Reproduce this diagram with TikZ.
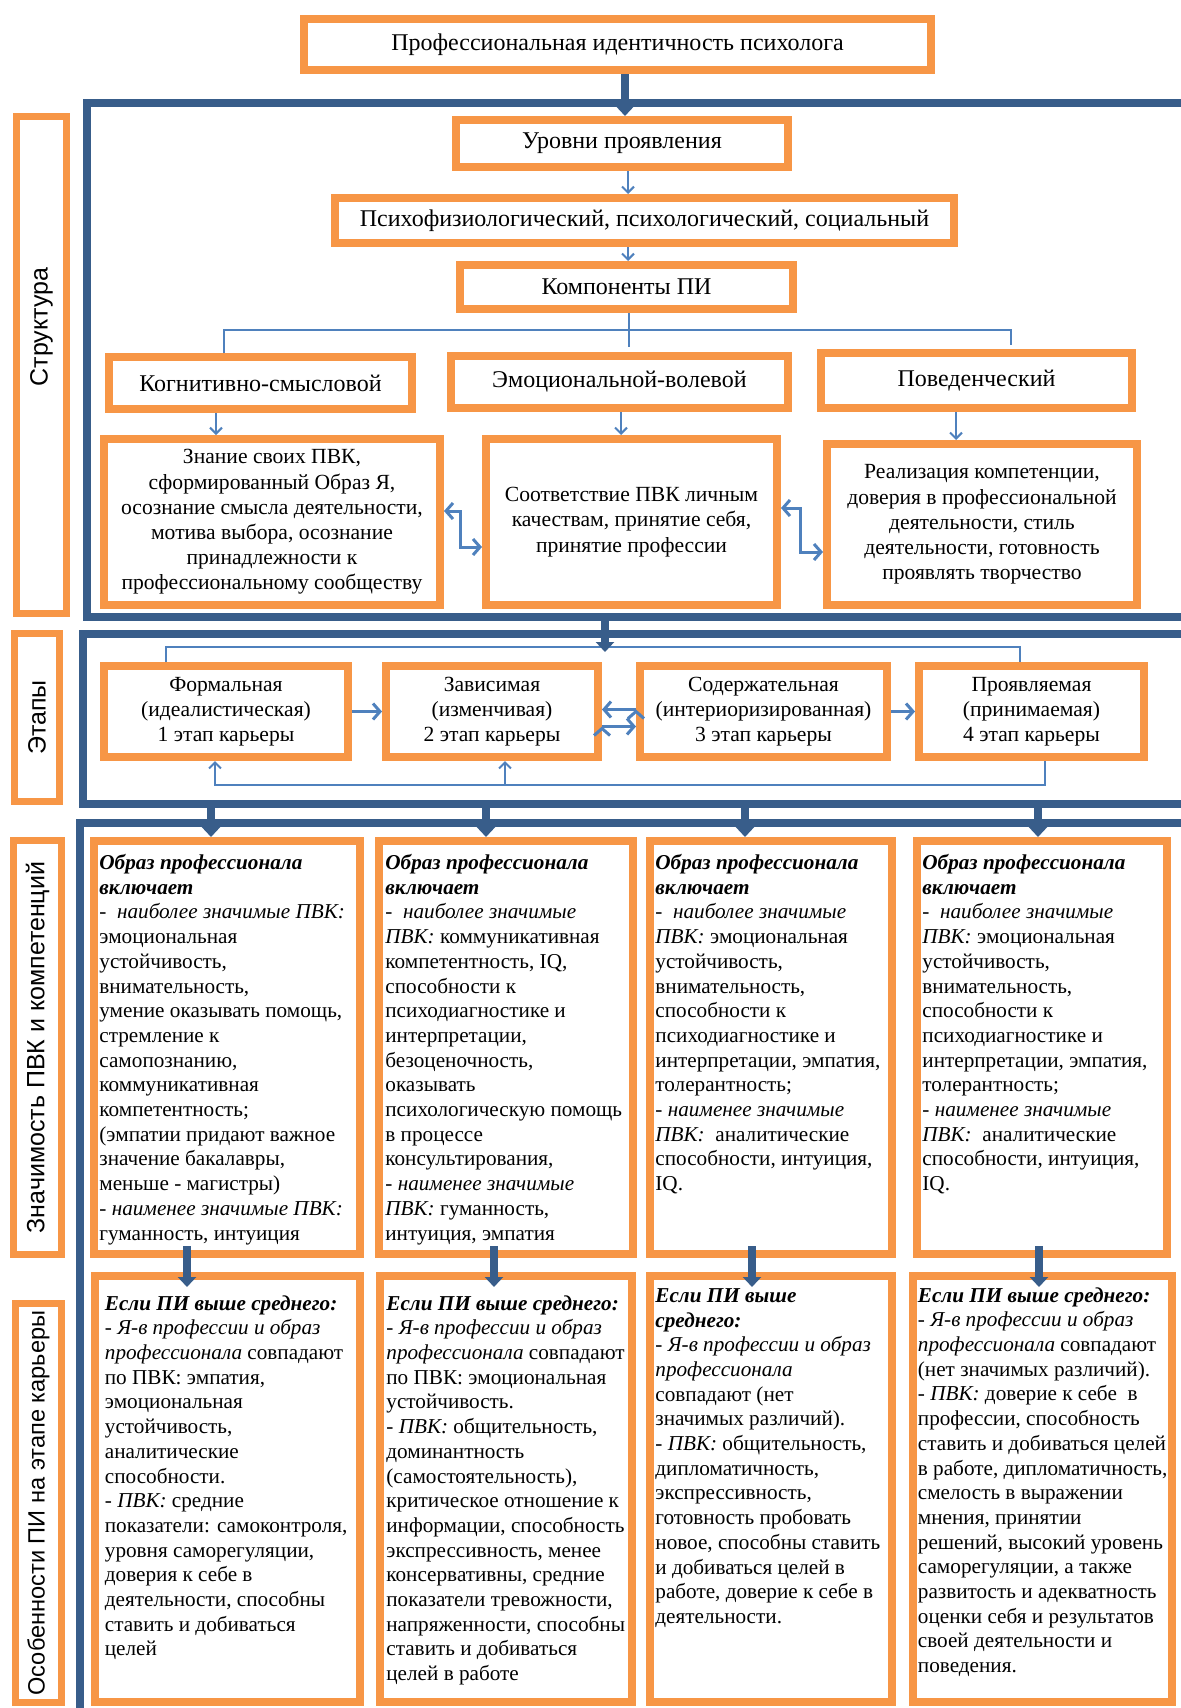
\documentclass[tikz,border=0pt]{standalone}
\usepackage{fontspec}
\setmainfont{Liberation Serif}
\newfontfamily\sidefont{Liberation Sans}
\usetikzlibrary{arrows.meta,positioning}
\definecolor{orng}{HTML}{F79646}
\definecolor{darkblue}{HTML}{385D8A}
\definecolor{lineblue}{HTML}{4F81BD}
\tikzstyle{obox}=[rectangle,draw=orng,line width=4pt,fill=white,align=center,inner sep=2pt,font=\fontsize{12}{15}\selectfont]
\tikzstyle{tbox}=[obox,font=\fontsize{10.8}{12.6}\selectfont]
\tikzstyle{colbox}=[rectangle,draw=orng,line width=4pt,fill=white]
\tikzstyle{sidebox}=[rectangle,draw=orng,line width=3.5pt,fill=white]
\tikzstyle{sidelabel}=[rotate=90,inner sep=0pt,font=\sidefont\fontsize{12.5}{14}\selectfont]
\tikzstyle{coltext}=[anchor=north west,align=left,inner sep=0pt,font=\fontsize{10.6}{12.35}\selectfont]
\tikzstyle{frameline}=[draw=darkblue,line width=4pt]
\tikzstyle{bigarrow}=[draw=darkblue,line width=4pt,-{Triangle[length=5pt,width=9pt]}]
\tikzstyle{thinline}=[draw=lineblue,line width=1pt]
\tikzstyle{thinarrow}=[thinline,-{Straight Barb[length=3pt,width=6pt]}]
\tikzstyle{stagearrow}=[draw=lineblue,line width=1.5pt,-{Straight Barb[length=3.5pt,width=8pt]}]
\tikzstyle{twoway}=[draw=lineblue,line width=1.5pt,{Straight Barb[length=3.5pt,width=8pt]}-{Straight Barb[length=3.5pt,width=8pt]}]
\begin{document}
\begin{tikzpicture}[x=0.5pt,y=-0.5pt,node distance=15pt]
            \fill[white] (0,0) rectangle (1181,1708);
            \useasboundingbox (0,0) rectangle (1181,1708);

            % FRAMES
            \draw[frameline] (1200,103) -- (87,103) -- (87,617) -- (1200,617);
            \draw[frameline] (1200,634) -- (83,634) -- (83,804) -- (1200,804);
            \draw[frameline] (1200,823) -- (80,823) -- (80,1720);

            % SIDE LABELS
            \node[sidebox,minimum width=25pt,minimum height=248.5pt] (sb1) at (41.5,365) {};
            \node[sidelabel] at (41.5,327) {Структура};
            \node[sidebox,minimum width=22.5pt,minimum height=84pt] (sb2) at (37,717.5) {};
            \node[sidelabel] at (sb2) {Этапы};
            \node[sidebox,minimum width=24pt,minimum height=207pt] (sb3) at (37.5,1047.5) {};
            \node[sidelabel] at (sb3) {Значимость ПВК и компетенций};
            \node[sidebox,minimum width=23pt,minimum height=199.5pt] (sb4) at (38.5,1503) {};
            \node[sidelabel,font=\sidefont\fontsize{11.8}{14}\selectfont] at (sb4) {Особенности ПИ на этапе карьеры};

            % STRUCTURE PART
            \node[obox,minimum width=313.5pt,minimum height=25.5pt] (pi) at (617.5,44.5) {Профессиональная идентичность психолога};
            \node[obox,minimum width=166pt,minimum height=23.5pt] (lvl) at (622,143.5) {Уровни проявления};
            \node[obox,minimum width=309.5pt,minimum height=22.5pt] (lvls) at (644.5,220.5) {Психофизиологический, психологический, социальный};
            \node[obox,minimum width=166.5pt,minimum height=22pt] (comp) at (626.5,287) {Компоненты ПИ};

            \node[obox,minimum width=151.5pt,minimum height=26pt] (k1) at (260.5,383) {Когнитивно-смысловой};
            \node[obox,minimum width=168.5pt,minimum height=26pt] (k2) at (619.5,382) {Эмоциональной-волевой};
            \node[obox,minimum width=155.5pt,minimum height=27.5pt] (k3) at (976.5,380.5) {Поведенческий};

            \node[tbox,minimum width=168pt,minimum height=83pt] (d1) at (272,522) {Знание своих ПВК,\\сформированный Образ Я,\\осознание смысла деятельности,\\мотива выбора, осознание\\принадлежности к\\профессиональному сообществу};
            \node[tbox,minimum width=145.5pt,minimum height=83pt] (d2) at (631.5,522) {Соответствие ПВК личным\\качествам, принятие себя,\\принятие профессии};
            \node[tbox,minimum width=155pt,minimum height=80.5pt] (d3) at (982,524.5) {Реализация компетенции,\\доверия в профессиональной\\деятельности, стиль\\деятельности, готовность\\проявлять творчество};

            \coordinate (ax0) at (625,0);
            \coordinate (ax1) at (628,0);
            \coordinate (ax2) at (216,0);
            \coordinate (ax3) at (621,0);
            \coordinate (ax4) at (956,0);
            \coordinate (busL) at (224,330);
            \coordinate (busM) at (629,330);
            \coordinate (busR) at (1011,330);

            \draw[bigarrow] (pi.south -| ax0) -- (lvl.north -| ax0);
            \draw[thinarrow] (lvl.south -| ax1) -- (lvls.north -| ax1);
            \draw[thinarrow] (lvls.south -| ax1) -- (comp.north -| ax1);
            \draw[thinline,shorten >=2.5pt] (comp.south -| busM) -- (k2.north -| busM);
            \draw[thinline,shorten >=2pt] (k1.north -| busL) -- (busL) -- (busR) -- (k3.north -| busR);
            \draw[thinarrow] (k1.south -| ax2) -- (d1.north -| ax2);
            \draw[thinarrow] (k2.south -| ax3) -- (d2.north -| ax3);
            \draw[thinarrow] (k3.south -| ax4) -- (d3.north -| ax4);

            \coordinate (el1) at (460,511);
            \coordinate (el2) at (460,547);
            \coordinate (el3) at (800,508);
            \coordinate (el4) at (800,552);
            \draw[twoway] (d1.east |- el1) -- (el1) -- (el2) -- (d2.west |- el2);
            \draw[twoway] (d2.east |- el3) -- (el3) -- (el4) -- (d3.west |- el4);

            % STAGES PART
            \node[tbox,minimum width=122pt,minimum height=45.5pt] (s1) at (226,711.5) {Формальная\\(идеалистическая)\\1 этап карьеры};
            \node[tbox,minimum width=106pt,minimum height=45.5pt,right=15pt of s1] (s2) {Зависимая\\(изменчивая)\\2 этап карьеры};
            \node[tbox,minimum width=123.5pt,minimum height=45.5pt,right=17pt of s2] (s3) {Содержательная\\(интериоризированная)\\3 этап карьеры};
            \node[tbox,minimum width=112.5pt,minimum height=45.5pt,right=12pt of s3] (s4) {Проявляемая\\(принимаемая)\\4 этап карьеры};

            \path[stagearrow] (s1) edge (s2);
            \path[stagearrow] ([yshift=1pt]s3.west) edge ([yshift=1pt]s2.east);
            \path[stagearrow] ([yshift=-7.5pt]s2.east) edge ([yshift=-7.5pt]s3.west);
            \path[stagearrow] (s3) edge (s4);

            \coordinate (tb1) at (166,647);
            \coordinate (tb4) at (1020,647);
            \coordinate (f1) at (605,617);
            \coordinate (f1tip) at (605,652);
            \draw[thinline] (s1.north -| tb1) -- (tb1) -- (tb4) -- (s4.north -| tb4);
            \draw[bigarrow] (f1) -- (f1tip);

            \coordinate (bb1) at (215,785);
            \coordinate (bb2) at (505,785);
            \coordinate (bb4) at (1045,785);
            \draw[thinarrow] (s4.south -| bb4) -- (bb4) -- (bb1) -- (s1.south -| bb1);
            \draw[thinarrow] (bb2) -- (s2.south -| bb2);

            % SIGNIFICANCE PART
            \node[colbox,minimum width=133pt,minimum height=206.5pt] (c1) at (227,1047.5) {};
            \node[colbox,minimum width=127pt,minimum height=206.5pt,right=5.5pt of c1] (c2) {};
            \node[colbox,minimum width=121pt,minimum height=206.5pt,right=4.5pt of c2] (c3) {};
            \node[colbox,minimum width=125pt,minimum height=206.5pt,right=8.5pt of c3] (c4) {};

            \node[coltext] at ([xshift=4.5pt,yshift=-8.5pt]c1.north west) {{\bfseries\itshape Образ профессионала}\\{\bfseries\itshape включает}\\-~~\textit{наиболее значимые ПВК:}\\эмоциональная\\устойчивость,\\внимательность,\\умение оказывать помощь,\\стремление к\\самопознанию,\\коммуникативная\\компетентность;\\(эмпатии придают важное\\значение бакалавры,\\меньше - магистры)\\- \textit{наименее значимые ПВК:}\\гуманность, интуиция};
            \node[coltext] at ([xshift=5pt,yshift=-8.5pt]c2.north west) {{\bfseries\itshape Образ профессионала}\\{\bfseries\itshape включает}\\-~~\textit{наиболее значимые}\\\textit{ПВК:} коммуникативная\\компетентность, IQ,\\способности к\\психодиагностике и\\интерпретации,\\безоценочность,\\оказывать\\психологическую помощь\\в процессе\\консультирования,\\- \textit{наименее значимые}\\\textit{ПВК:} гуманность,\\интуиция, эмпатия};
            \node[coltext] at ([xshift=4.5pt,yshift=-8.5pt]c3.north west) {{\bfseries\itshape Образ профессионала}\\{\bfseries\itshape включает}\\-~~\textit{наиболее значимые}\\\textit{ПВК:} эмоциональная\\устойчивость,\\внимательность,\\способности к\\психодиагностике и\\интерпретации, эмпатия,\\толерантность;\\- \textit{наименее значимые}\\\textit{ПВК:}~~аналитические\\способности, интуиция,\\IQ.};
            \node[coltext] at ([xshift=4.5pt,yshift=-8.5pt]c4.north west) {{\bfseries\itshape Образ профессионала}\\{\bfseries\itshape включает}\\-~~\textit{наиболее значимые}\\\textit{ПВК:} эмоциональная\\устойчивость,\\внимательность,\\способности к\\психодиагностике и\\интерпретации, эмпатия,\\толерантность;\\- \textit{наименее значимые}\\\textit{ПВК:}~~аналитические\\способности, интуиция,\\IQ.};

            \coordinate (f2a) at (211,804);
            \coordinate (f2b) at (486,804);
            \coordinate (f2c) at (745,804);
            \coordinate (f2d) at (1038,804);
            \draw[bigarrow] (f2a) -- (c1.north -| f2a);
            \draw[bigarrow] (f2b) -- (c2.north -| f2b);
            \draw[bigarrow] (f2c) -- (c3.north -| f2c);
            \draw[bigarrow] (f2d) -- (c4.north -| f2d);

            % CAREER STAGE PART
            \node[colbox,minimum width=132.5pt,minimum height=213pt,below=7pt of c1] (r1) {};
            \node[colbox,minimum width=126pt,minimum height=213pt,below=7pt of c2] (r2) {};
            \node[colbox,minimum width=121pt,minimum height=213pt,below=7pt of c3] (r3) {};
            \node[colbox,minimum width=129.5pt,minimum height=213pt,below=7pt of c4] (r4) {};

            \node[coltext] at ([xshift=7pt,yshift=-11.5pt]r1.north west) {{\bfseries\itshape Если ПИ выше среднего:}\\- \textit{Я-в профессии и образ}\\\textit{профессионала} совпадают\\по ПВК: эмпатия,\\эмоциональная\\устойчивость,\\аналитические\\способности.\\- \textit{ПВК:} средние\\показатели: самоконтроля,\\уровня саморегуляции,\\доверия к себе в\\деятельности, способны\\ставить и добиваться\\целей};
            \node[coltext] at ([xshift=5pt,yshift=-11.5pt]r2.north west) {{\bfseries\itshape Если ПИ выше среднего:}\\- \textit{Я-в профессии и образ}\\\textit{профессионала} совпадают\\по ПВК: эмоциональная\\устойчивость.\\- \textit{ПВК:} общительность,\\доминантность\\(самостоятельность),\\критическое отношение к\\информации, способность\\экспрессивность, менее\\консервативны, средние\\показатели тревожности,\\напряженности, способны\\ставить и добиваться\\целей в работе};
            \node[coltext] at ([xshift=4.5pt,yshift=-8pt]r3.north west) {{\bfseries\itshape Если ПИ выше}\\{\bfseries\itshape среднего:}\\- \textit{Я-в профессии и образ}\\\textit{профессионала}\\совпадают (нет\\значимых различий).\\- \textit{ПВК:} общительность,\\дипломатичность,\\экспрессивность,\\готовность пробовать\\новое, способны ставить\\и добиваться целей в\\работе, доверие к себе в\\деятельности.};
            \node[coltext] at ([xshift=4.5pt,yshift=-7.5pt]r4.north west) {{\bfseries\itshape Если ПИ выше среднего:}\\- \textit{Я-в профессии и образ}\\\textit{профессионала} совпадают\\(нет значимых различий).\\- \textit{ПВК:} доверие к себе~~в\\профессии, способность\\ставить и добиваться целей\\в работе, дипломатичность,\\смелость в выражении\\мнения, принятии\\решений, высокий уровень\\саморегуляции, а также\\развитость и адекватность\\оценки себя и результатов\\своей деятельности и\\поведения.};

            \coordinate (ra1) at (187,0);
            \coordinate (ra2) at (494,0);
            \coordinate (ra3) at (752,0);
            \coordinate (ra4) at (1039,0);
            \draw[bigarrow,shorten <=-6pt,shorten >=-7.5pt] (c1.south -| ra1) -- (r1.north -| ra1);
            \draw[bigarrow,shorten <=-6pt,shorten >=-7.5pt] (c2.south -| ra2) -- (r2.north -| ra2);
            \draw[bigarrow,shorten <=-6pt,shorten >=-7.5pt] (c3.south -| ra3) -- (r3.north -| ra3);
            \draw[bigarrow,shorten <=-6pt,shorten >=-7.5pt] (c4.south -| ra4) -- (r4.north -| ra4);

\end{tikzpicture}
\end{document}
